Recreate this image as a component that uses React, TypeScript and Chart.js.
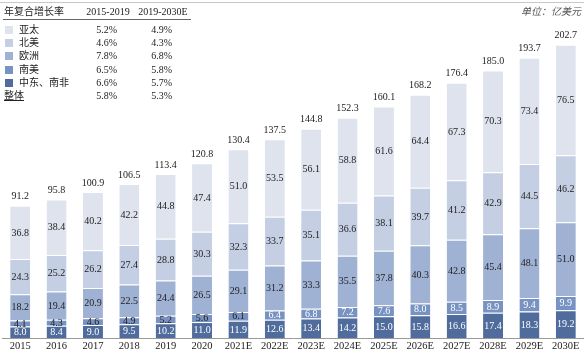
import React, { useEffect, useRef } from "react";
import { Chart, registerables } from "chart.js";

Chart.register(...registerables);

const categories = ["2015", "2016", "2017", "2018", "2019", "2020", "2021E", "2022E", "2023E", "2024E", "2025E", "2026E", "2027E", "2028E", "2029E", "2030E"];
const middleEastAfrica = [8.0, 8.4, 9.0, 9.5, 10.2, 11.0, 11.9, 12.6, 13.4, 14.2, 15.0, 15.8, 16.6, 17.4, 18.3, 19.2];
const southAmerica = [4.1, 4.3, 4.6, 4.9, 5.2, 5.6, 6.1, 6.4, 6.8, 7.2, 7.6, 8.0, 8.5, 8.9, 9.4, 9.9];
const europe = [18.2, 19.4, 20.9, 22.5, 24.4, 26.5, 29.1, 31.2, 33.3, 35.5, 37.8, 40.3, 42.8, 45.4, 48.1, 51.0];
const northAmerica = [24.3, 25.2, 26.2, 27.4, 28.8, 30.3, 32.3, 33.7, 35.1, 36.6, 38.1, 39.7, 41.2, 42.9, 44.5, 46.2];
const asiaPacific = [36.8, 38.4, 40.2, 42.2, 44.8, 47.4, 51.0, 53.5, 56.1, 58.8, 61.6, 64.4, 67.3, 70.3, 73.4, 76.5];
const totals = [91.2, 95.8, 100.9, 106.5, 113.4, 120.8, 130.4, 137.5, 144.8, 152.3, 160.1, 168.2, 176.4, 185.0, 193.7, 202.7];

const legendRows = ["亚太", "北美", "欧洲", "南美", "中东、南非"];
const cagr1519 = ["5.2%", "4.6%", "7.8%", "6.5%", "6.6%"];
const cagr1930 = ["4.9%", "4.3%", "6.8%", "5.8%", "5.7%"];
const overallLabel = "整体";
const overall1519 = "5.8%";
const overall1930 = "5.3%";

const COLORS = {
  mea: "#4f6c9c",
  sa: "#7892c2",
  eu: "#9fb2d4",
  na: "#c4cfe3",
  ap: "#dee3ee",
};
const legendColors = [COLORS.ap, COLORS.na, COLORS.eu, COLORS.sa, COLORS.mea];

const SERIF = "'Liberation Serif', 'Noto Sans CJK SC', serif";

const labelPlugin = {
  id: "segLabels",
  afterDatasetsDraw(chart: any) {
    const ctx = chart.ctx;
    ctx.save();
    ctx.font = "10px 'Liberation Serif', serif";
    ctx.textAlign = "center";
    ctx.textBaseline = "middle";
    chart.data.datasets.forEach((ds: any, di: number) => {
      const meta = chart.getDatasetMeta(di);
      meta.data.forEach((el: any, i: number) => {
        const v = ds.data[i];
        const y = (el.y + el.base) / 2;
        let color = "#222";
        if (di === 0) color = "#fff";
        if (di === 1 && i >= 7) color = "#fff";
        ctx.fillStyle = color;
        ctx.fillText(v.toFixed(1), el.x, y + 0.5);
      });
    });
    const top = chart.getDatasetMeta(chart.data.datasets.length - 1);
    ctx.fillStyle = "#222";
    top.data.forEach((el: any, i: number) => {
      ctx.fillText(totals[i].toFixed(1), el.x, el.y - 9);
    });
    ctx.restore();
  },
};

export default function App() {
  const ref = useRef<HTMLCanvasElement | null>(null);

  useEffect(() => {
    document.body.style.margin = "0";
    const mk = (label: string, data: number[], color: string) => ({
      label,
      data,
      backgroundColor: color,
      borderColor: "#ffffff",
      borderWidth: { top: 1, left: 0, right: 0, bottom: 0 },
      borderSkipped: false,
      categoryPercentage: 1,
      barPercentage: 0.55,
    });
    const chart = new Chart(ref.current as HTMLCanvasElement, {
      type: "bar",
      data: {
        labels: categories,
        datasets: [
          mk("中东、南非", middleEastAfrica, COLORS.mea),
          mk("南美", southAmerica, COLORS.sa),
          mk("欧洲", europe, COLORS.eu),
          mk("北美", northAmerica, COLORS.na),
          mk("亚太", asiaPacific, COLORS.ap),
        ],
      },
      options: {
        responsive: false,
        animation: false,
        layout: { padding: { top: 40, left: 2, right: 0, bottom: 0 } },
        plugins: { legend: { display: false }, tooltip: { enabled: false } },
        scales: {
          x: {
            stacked: true,
            grid: { display: false, drawTicks: false },
            border: { display: true, color: "#9a9a9a", width: 1 },
            ticks: {
              color: "#222",
              padding: 2,
              font: { family: "'Liberation Serif', serif", size: 10.5 },
              maxRotation: 0,
              autoSkip: false,
            },
            afterFit: (s: any) => {
              s.height = 13;
            },
          },
          y: {
            stacked: true,
            display: false,
            min: 0,
            max: 206,
          },
        },
      },
      plugins: [labelPlugin],
    });
    return () => chart.destroy();
  }, []);

  const rowTop = (i: number) => 23 + i * 13.2;
  const txt: React.CSSProperties = { position: "absolute", fontSize: 10, lineHeight: "14px", whiteSpace: "nowrap" };

  return (
    <div style={{ position: "relative", width: 584, height: 351, fontFamily: SERIF, color: "#222" }}>
      <canvas ref={ref} width={584} height={351} style={{ position: "absolute", left: 0, top: 0, width: 584, height: 351 }} />
      <div style={{ position: "absolute", left: 0, top: 2, width: 584, height: 1, background: "#c8c8c8" }} />
      <div style={{ ...txt, left: 4, top: 5 }}>年复合增长率</div>
      <div style={{ ...txt, left: 80, top: 5, width: 56, textAlign: "center" }}>2015-2019</div>
      <div style={{ ...txt, left: 133, top: 5, width: 60, textAlign: "center" }}>2019-2030E</div>
      <div style={{ position: "absolute", left: 3, top: 19, width: 188, height: 1, background: "#666" }} />
      {legendRows.map((name, i) => (
        <React.Fragment key={name}>
          <div style={{ position: "absolute", left: 5, top: rowTop(i) + 3, width: 8, height: 8, background: legendColors[i] }} />
          <div style={{ ...txt, left: 19, top: rowTop(i) }}>{name}</div>
          <div style={{ ...txt, left: 80, top: rowTop(i), width: 37, textAlign: "right" }}>{cagr1519[i]}</div>
          <div style={{ ...txt, left: 135, top: rowTop(i), width: 37, textAlign: "right" }}>{cagr1930[i]}</div>
        </React.Fragment>
      ))}
      <div style={{ ...txt, left: 4, top: rowTop(5), textDecoration: "underline" }}>{overallLabel}</div>
      <div style={{ ...txt, left: 80, top: rowTop(5), width: 37, textAlign: "right" }}>{overall1519}</div>
      <div style={{ ...txt, left: 135, top: rowTop(5), width: 37, textAlign: "right" }}>{overall1930}</div>
      <div style={{ ...txt, right: 3, top: 5, fontStyle: "italic", color: "#555" }}>单位：亿美元</div>
    </div>
  );
}
